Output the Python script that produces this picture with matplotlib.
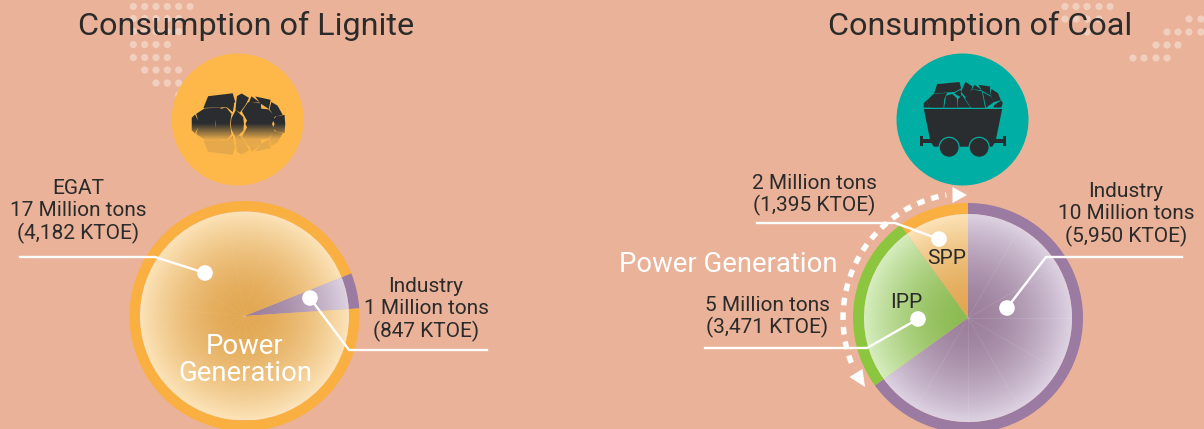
"""
Lignite and coal consumption infographic, drawn on a pixel-sized axes.
"""

import numpy as np
import matplotlib
matplotlib.use("Agg")
import matplotlib.pyplot as plt
from matplotlib.colors import to_rgb
from matplotlib.patches import Arc, Circle, Polygon, PathPatch, Wedge
from matplotlib.path import Path

# values (share of the pie in percent)
lignite_names = ["Industry", "EGAT"]
lignite_share = [5, 95]
coal_names = ["SPP", "IPP", "Industry"]
coal_share = [10, 25, 65]

lignite_titles = "Consumption of Lignite"
coal_titles = "Consumption of Coal"
egat_label = "EGAT\n17 Million tons\n(4,182 KTOE)"
lig_ind_label = "Industry\n1 Million tons\n(847 KTOE)"
spp_label = "2 Million tons\n(1,395 KTOE)"
ipp_label = "5 Million tons\n(3,471 KTOE)"
coal_ind_label = "Industry\n10 Million tons\n(5,950 KTOE)"

BG = "#EAB298"
DARK = "#2A2D30"
TEXT = "#2B2B2B"
FONT = ["Roboto", "DejaVu Sans"]

ORANGE = dict(ring="#F9B040", mid="#E2A752", edge="#FCE3B8")
PURPLE = dict(ring="#9C7BA3", mid="#9C7F9C", edge="#DDD2E2")
GREEN = dict(ring="#8CC63F", mid="#8CBB52", edge="#D6EDBE")

plt.rcParams["font.family"] = FONT

fig = plt.figure(figsize=(12.04, 4.29), dpi=100, facecolor=BG)
ax = fig.add_axes([0, 0, 1, 1])
ax.set_axis_off()


def reset_limits():
    ax.set_xlim(0, 1204)
    ax.set_ylim(429, 0)


def radial_fill(clip, cx, cy, r, colors):
    """Radial gradient image, clipped to a patch."""
    g = np.linspace(-1, 1, 300)
    xx, yy = np.meshgrid(g, g)
    t = np.clip(np.hypot(xx, yy), 0, 1)[..., None] ** 1.7
    mid = np.array(to_rgb(colors["mid"]))
    edge = np.array(to_rgb(colors["edge"]))
    img = mid * (1 - t) + edge * t
    im = ax.imshow(img, extent=(cx - r, cx + r, cy + r, cy - r), origin="upper",
                   aspect="auto", zorder=2)
    im.set_clip_path(clip)


def draw_pie(cx, cy, r_out, r_in, start, shares, styles):
    """Slices run counter-clockwise on screen from the start angle in degrees."""
    a = start
    for share, colors in zip(shares, styles):
        b = a + share * 3.6
        # y axis is inverted so screen angles get negated
        ax.add_patch(Wedge((cx, cy), r_out, -b, -a, width=r_out - r_in,
                           fc=colors["ring"], ec="none", zorder=2))
        w = Wedge((cx, cy), r_in, -b, -a, fc="none", ec="none", zorder=2)
        ax.add_patch(w)
        radial_fill(w, cx, cy, r_in, colors)
        a = b


def spokes(cx, cy, r, angles, alpha):
    for a in angles:
        t = np.radians(a)
        ax.plot([cx, cx + r * np.cos(t)], [cy, cy - r * np.sin(t)],
                color="white", lw=0.6, alpha=alpha, zorder=3)


def leader(xs, ys, dot):
    ax.plot(xs, ys, color="white", lw=1.7, solid_joinstyle="miter", zorder=5)
    ax.add_patch(Circle(dot, 7.8, fc="white", ec="none", zorder=6))


def dots(rows):
    for y, xs in rows:
        for x in xs:
            ax.add_patch(Circle((x, y), 3.6, fc="white", ec="none", alpha=0.38, zorder=1))


def label(x, y, s, size=15, color=TEXT, spacing=1.16, **kw):
    ax.text(x, y, s, fontsize=size, color=color, ha="center", va="center",
            linespacing=spacing, zorder=7, **kw)


def grow(pts, k=1.1):
    # polygons a bit bigger than traced so the cracks stay thin
    p = np.array(pts, dtype=float)
    c = p.mean(axis=0)
    return [tuple(q) for q in c + (p - c) * k]


def compound(polys):
    verts, codes = [], []
    for p in polys:
        verts += list(p) + [p[0]]
        codes += [Path.MOVETO] + [Path.LINETO] * (len(p) - 1) + [Path.CLOSEPOLY]
    return Path(verts, codes)


# ---- decoration dots
left = [133.3, 144.7, 156, 167.3, 178.7, 190]
dots([(6.5, left), (18.5, left[:5]), (31.5, left[:5]), (44.5, left[:4]),
      (57.5, left[:4]), (70, left[1:5]), (83, left[2:5]), (95, left[4:5])])
dots([(6.5, [1065, 1076, 1087, 1099, 1110]), (19, [1065, 1076, 1087, 1099]),
      (32, [1087]), (19, [1189, 1201]), (32, [1167, 1178, 1189, 1201]),
      (45, [1156, 1167, 1178]), (58, [1133, 1144, 1156, 1167])])

# ---- lignite icon: rocks with a fading reflection below y=124
ax.add_patch(Circle((237.7, 119.5), 66, fc="#FDB849", ec="none", zorder=2))


def rock_xy(pts):
    return [(160 + x / 3, 40 + y / 3) for x, y in pts]


rocks = [
    [(148, 170), (215, 162), (222, 186), (200, 200), (135, 202)],
    [(232, 170), (245, 163), (265, 175), (255, 195), (240, 215), (228, 207)],
    [(275, 170), (298, 187), (268, 187)],
    [(288, 171), (330, 180), (325, 205), (302, 190)],
    [(335, 188), (352, 198), (366, 223), (345, 228), (330, 208)],
    [(112, 222), (135, 207), (180, 205), (165, 225), (165, 251), (120, 251)],
    [(96, 234), (105, 225), (118, 251), (96, 251)],
    [(175, 210), (198, 205), (212, 222), (208, 251), (170, 251), (168, 228)],
    [(200, 200), (222, 190), (218, 215)],
    [(216, 235), (228, 212), (248, 232), (250, 251), (214, 251)],
    [(265, 190), (300, 193), (303, 251), (258, 251), (262, 240), (248, 215)],
    [(305, 208), (325, 210), (343, 228), (335, 251), (305, 251)],
    [(340, 240), (350, 230), (372, 226), (374, 251), (345, 251)],
]
upper = [grow(rock_xy(r)) for r in rocks]
mirror_y = 124
# clamp the grown polygons to the mirror line, the flat cut must not overshoot
upper = [[(x, min(y, mirror_y)) for x, y in p] for p in upper]
lower = [[(x, 2 * mirror_y - y) for x, y in p] for p in upper]
rock_path = PathPatch(compound(upper + lower), fc="none", ec="none", zorder=3)
ax.add_patch(rock_path)
yy = np.linspace(0, 1, 200)[:, None]
t = np.clip((yy - 0.49) / 0.25, 0, 1)[..., None]
ramp = np.array(to_rgb(DARK)) * (1 - t) + np.array(to_rgb("#E5A94B")) * t
im = ax.imshow(ramp, extent=(180, 290, mirror_y + 32, mirror_y - 32), origin="upper",
               aspect="auto", zorder=3)
im.set_clip_path(rock_path)

# ---- coal icon: a mine cart
ax.add_patch(Circle((962.5, 119.5), 66, fc="#00AEA3", ec="none", zorder=2))


def cart_xy(pts):
    return [(880 + x / 3 + 0.5, 40 + y / 3) for x, y in pts]


cart_rocks = [
    [(172, 133), (235, 127), (240, 145), (222, 155), (163, 160)],
    [(255, 127), (275, 140), (265, 165), (255, 170), (243, 155)],
    [(283, 135), (303, 150), (275, 148)],
    [(295, 135), (328, 140), (328, 165), (305, 152)],
    [(333, 148), (352, 160), (360, 180), (340, 185), (330, 165)],
    [(140, 182), (160, 163), (198, 160), (190, 178), (188, 202), (150, 202)],
    [(198, 168), (215, 163), (228, 175), (230, 202), (192, 202)],
    [(222, 160), (240, 150), (243, 172), (235, 168)],
    [(233, 178), (245, 167), (268, 202), (232, 202)],
    [(255, 175), (275, 150), (303, 155), (312, 202), (272, 202)],
    [(308, 158), (330, 170), (340, 185), (317, 202)],
    [(342, 195), (362, 182), (366, 190), (362, 202), (340, 202)],
    [(130, 190), (138, 182), (148, 202), (130, 202)],
]
for r in cart_rocks:
    ax.add_patch(Polygon(grow(cart_xy(r), 1.06), fc=DARK, ec="none", zorder=3))
ax.add_patch(Polygon(cart_xy([(130, 207), (365, 207), (345, 305), (335, 320), (160, 320), (150, 305)]),
                     fc=DARK, ec="none", zorder=3))
for bar in ([(124, 297), (372, 297), (372, 309), (124, 309)],
            [(118, 287), (128, 287), (128, 317), (118, 317)],
            [(366, 287), (376, 287), (376, 317), (366, 317)]):
    ax.add_patch(Polygon(cart_xy(bar), fc=DARK, ec="none", zorder=3))
for wheel in [(206, 322), (296, 322)]:
    ax.add_patch(Circle(cart_xy([wheel])[0], 10, fc=DARK, ec="#00AEA3", lw=0.9, zorder=4))

# ---- pies
draw_pie(244.5, 316, 115, 104.5, 3.8, lignite_share, [PURPLE, ORANGE])
spokes(244.5, 316, 104, [50, 75, 100, 125, 150, 175, 200, 225, 250, 275, 300, 325], 0.06)
draw_pie(968, 318, 115, 104, 90, coal_share, [ORANGE, GREEN, PURPLE])
spokes(968, 318, 104, [240, 270, 300, 330, 0, 30, 60], 0.10)

# ---- dashed arrow round the power generation slices
ax.add_patch(Arc((968, 318), 250, 250, theta1=-201, theta2=-100,
                 color="white", lw=3.9, ls=(0, (1.4, 1.3)), zorder=4))
ax.add_patch(Polygon([(967, 195), (952.5, 187), (952.5, 203)], fc="white", ec="none", zorder=4))
ax.add_patch(Polygon([(865, 387), (849.5, 377), (862.5, 369)], fc="white", ec="none", zorder=4))

# ---- leader lines
leader([20, 155, 205], [257, 257, 273], (205, 273))
leader([310, 349, 487], [298, 350, 350], (310, 298))
leader([757, 895, 939], [223, 223, 239], (939, 239))
leader([705, 867, 918], [348, 348, 319], (918, 319))
leader([1182, 1046, 1007], [257, 257, 308], (1007, 308))

# ---- text
label(246, 26, lignite_titles, size=23.3)
label(980, 26, coal_titles, size=23.3)
label(78, 211.5, egat_label)
label(426, 309.5, lig_ind_label)
label(814, 195, spp_label)
label(767, 317, ipp_label)
label(1126, 214.5, coal_ind_label)
label(947, 259, coal_names[0], size=15)
label(906, 303, coal_names[1], size=15)
label(245, 360, "Power\nGeneration", size=19.8, color="white", spacing=1.0)
label(728, 264, "Power Generation", size=19.8, color="white")

reset_limits()
fig.savefig("out.png", dpi=100, facecolor=BG)
